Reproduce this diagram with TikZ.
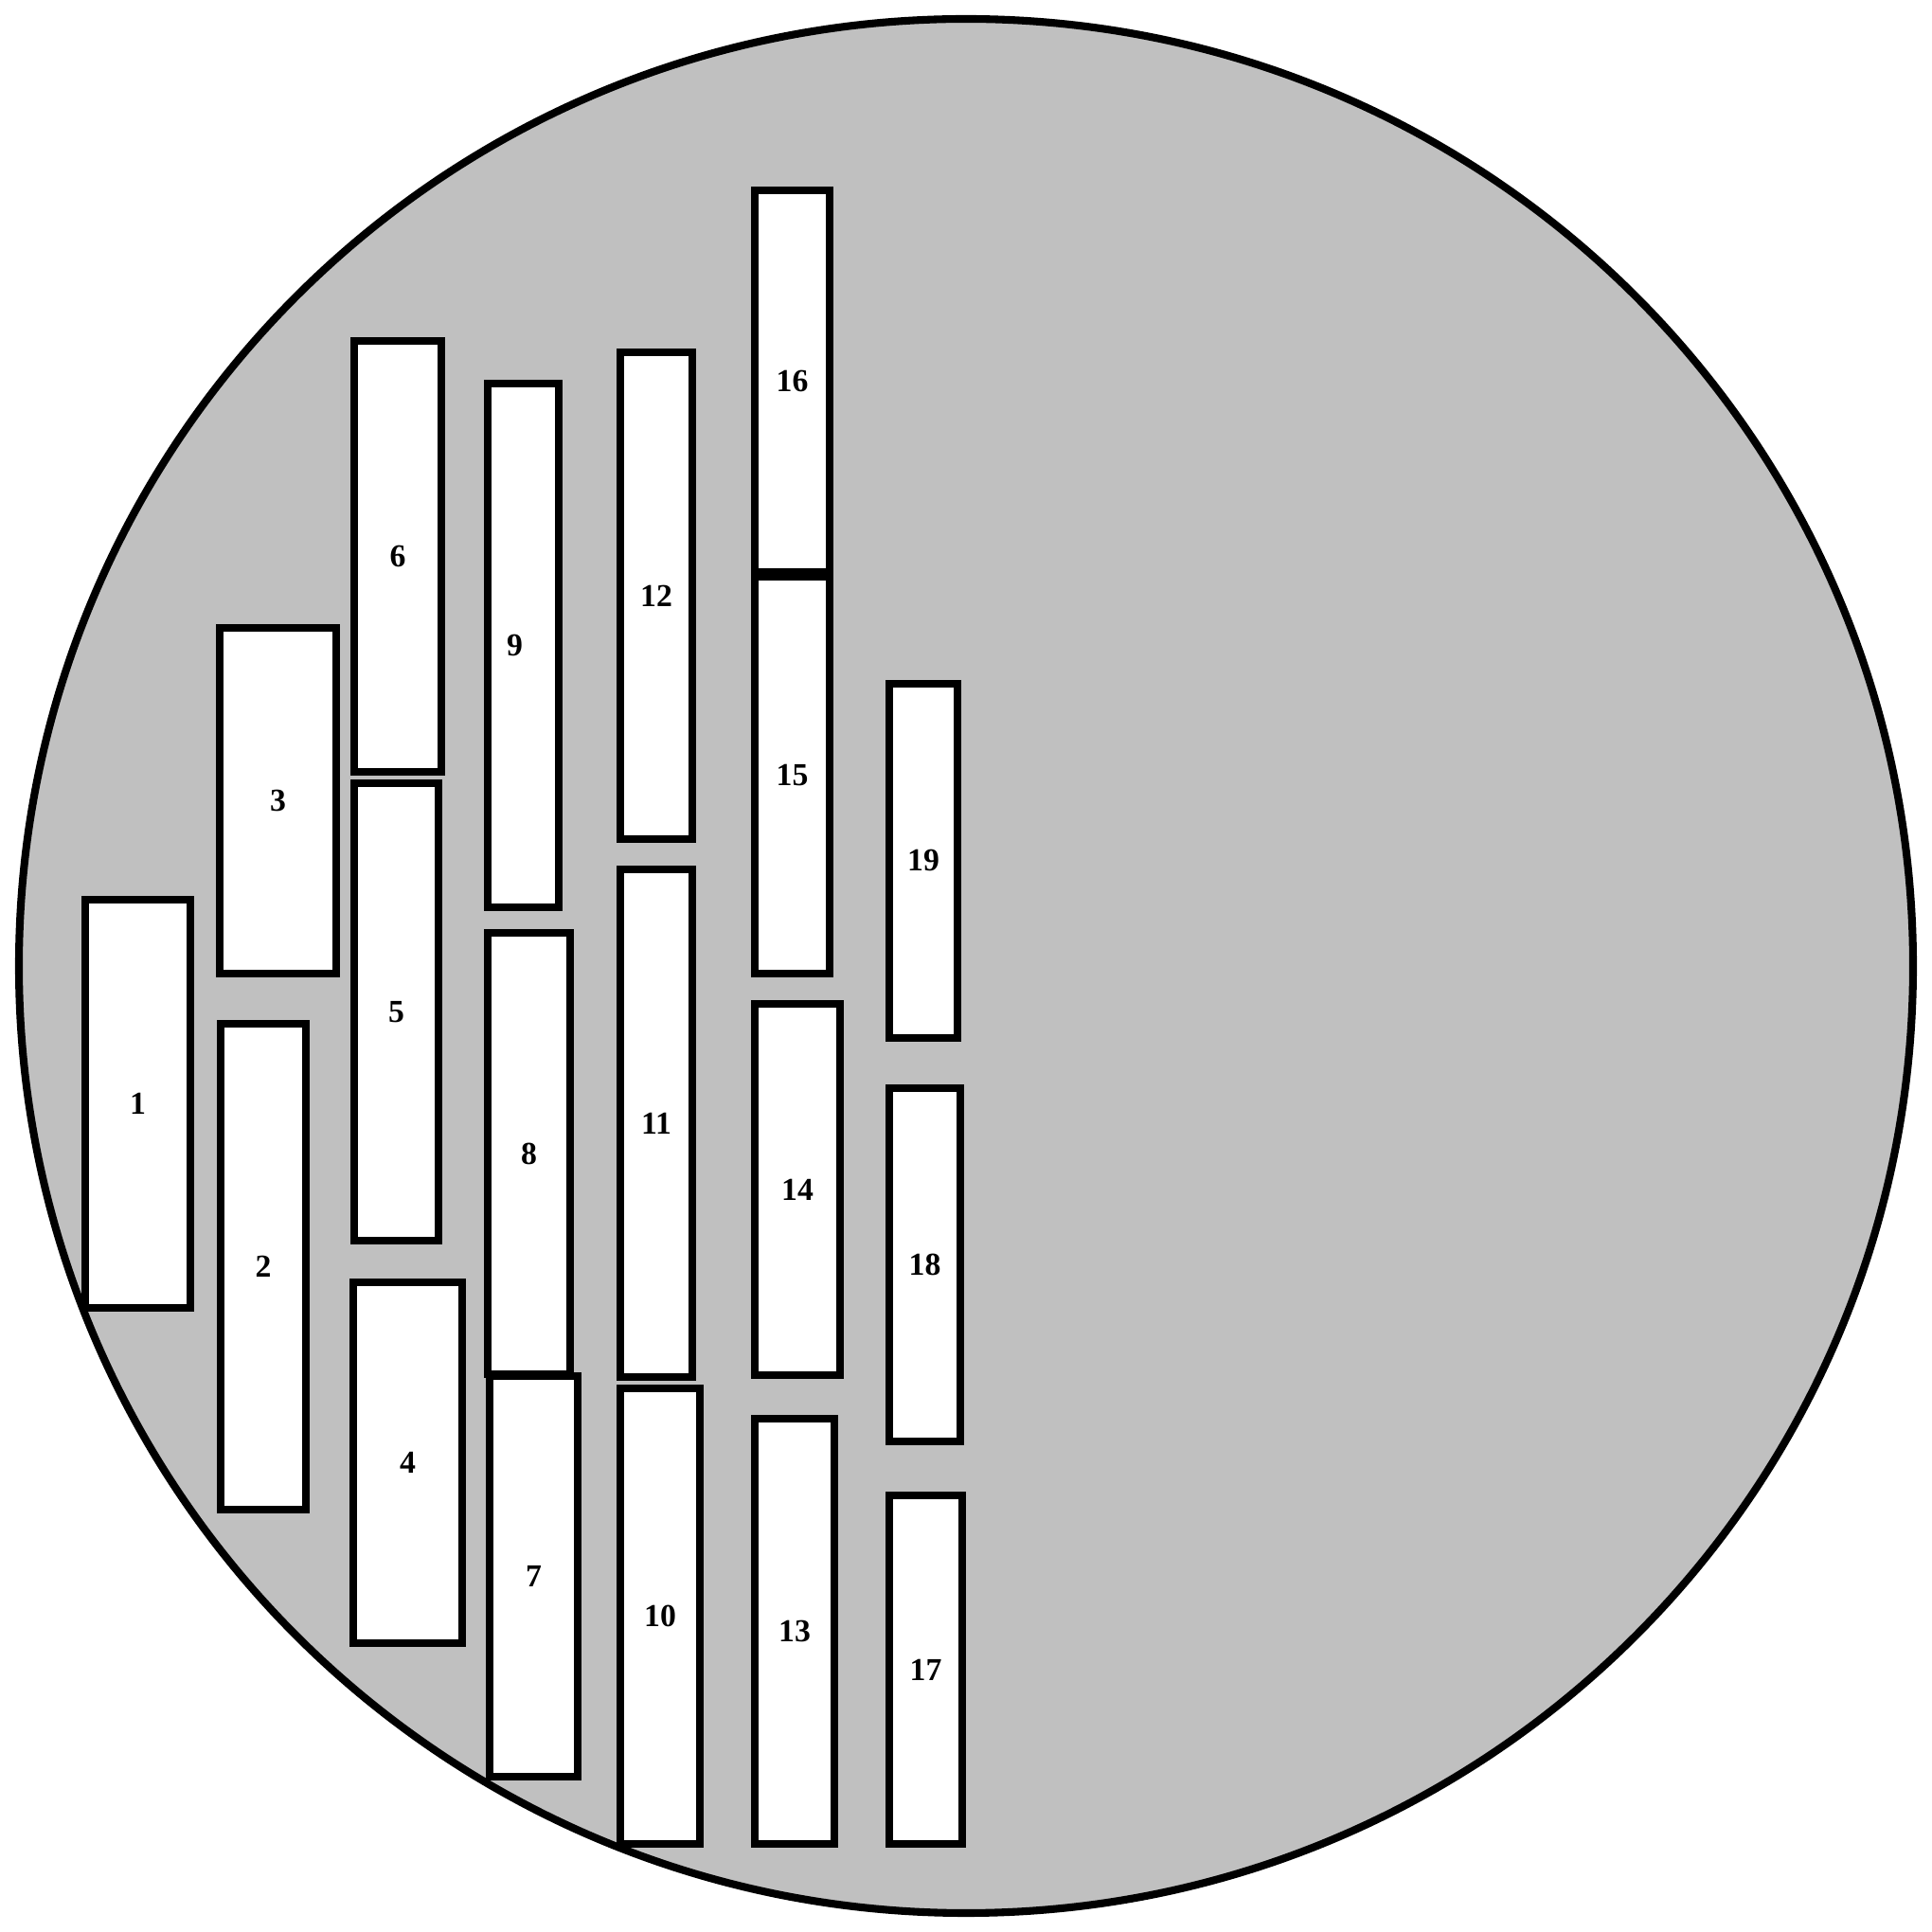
\documentclass[tikz,border=0pt]{standalone}
\usepackage{fontspec}
\setmainfont{Liberation Serif}
\usepackage{tikz}
\definecolor{dishgray}{RGB}{192,192,192}

\tikzset{slot/.style={draw,fill=white,line width=2.3pt,inner sep=0pt,font=\fontsize{9.6}{11}\selectfont\bfseries}}

\begin{document}
\begin{tikzpicture}
\useasboundingbox (0,0) rectangle (20.4,20.4);
\draw[line width=2.3pt,fill=dishgray] (10.2,10.2) circle (10);
\node[slot,minimum width=1.11cm,minimum height=4.31cm] (s1) at (1.455,8.745) {1};
\node[slot,minimum width=0.90cm,minimum height=5.13cm] (s2) at (2.78,7.025) {2};
\node[slot,minimum width=1.23cm,minimum height=3.65cm] (s3) at (2.935,11.945) {3};
\node[slot,minimum width=1.15cm,minimum height=3.81cm] (s4) at (4.305,4.955) {4};
\node[slot,minimum width=0.89cm,minimum height=4.83cm] (s5) at (4.185,9.715) {5};
\node[slot,minimum width=0.92cm,minimum height=4.55cm] (s6) at (4.20,14.525) {6};
\node[slot,minimum width=0.93cm,minimum height=4.23cm] (s7) at (5.635,3.755) {7};
\node[slot,minimum width=0.87cm,minimum height=4.66cm] (s8) at (5.585,8.22) {8};
\node[slot,minimum width=0.75cm,minimum height=5.53cm] (s9) at (5.525,13.585) {};
\node (l9) at ([xshift=-0.09cm]s9.center) {\fontsize{9.6}{11}\selectfont\bfseries 9};
\node[slot,minimum width=0.84cm,minimum height=4.81cm] (s10) at (6.97,3.335) {10};
\node[slot,minimum width=0.76cm,minimum height=5.36cm] (s11) at (6.93,8.54) {11};
\node[slot,minimum width=0.76cm,minimum height=5.14cm] (s12) at (6.93,14.11) {12};
\node[slot,minimum width=0.84cm,minimum height=4.49cm] (s13) at (8.39,3.175) {13};
\node[slot,minimum width=0.90cm,minimum height=3.92cm] (s14) at (8.42,7.84) {14};
\node[slot,minimum width=0.79cm,minimum height=4.19cm] (s15) at (8.365,12.215) {15};
\node[slot,minimum width=0.79cm,minimum height=4.03cm] (s16) at (8.365,16.375) {16};
\node[slot,minimum width=0.77cm,minimum height=3.68cm] (s17) at (9.775,2.77) {17};
\node[slot,minimum width=0.75cm,minimum height=3.73cm] (s18) at (9.765,7.045) {18};
\node[slot,minimum width=0.72cm,minimum height=3.74cm] (s19) at (9.75,11.31) {19};
\end{tikzpicture}
\end{document}
